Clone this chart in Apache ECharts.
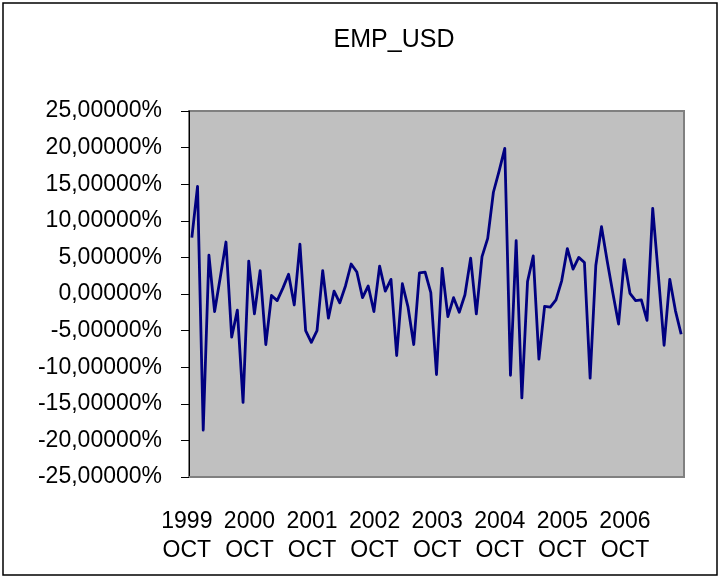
<!DOCTYPE html>
<html>
<head>
<meta charset="utf-8">
<script src="https://cdn.jsdelivr.net/npm/echarts@6/dist/echarts.min.js"></script>
<style>
  html, body { margin: 0; padding: 0; background: #fff; }
  #chart { width: 721px; height: 579px; }
</style>
</head>
<body>
<div id="chart"></div>
<script>
// EMP_USD series, in percent
const values = [
  7.7, 14.7, -18.6, 5.3, -2.4, 2.3, 7.1, -5.9, -2.2, -14.8,
  4.5, -2.7, 3.2, -6.9, -0.2, -0.9, 0.8, 2.7, -1.5, 6.8,
  -5.0, -6.6, -5.0, 3.2, -3.3, 0.4, -1.2, 1.1, 4.1, 3.0,
  -0.5, 1.1, -2.4, 3.8, 0.4, 2.0, -8.4, 1.4, -1.8, -6.9,
  2.9, 3.0, 0.2, -11.0, 3.5, -3.1, -0.5, -2.5, -0.1, 4.9,
  -2.7, 5.1, 7.6, 13.9, 16.8, 19.9, -11.1, 7.3, -14.2, 1.7,
  5.2, -8.9, -1.7, -1.8, -0.8, 1.8, 6.2, 3.4, 5.0, 4.3,
  -11.5, 3.9, 9.2, 4.5, 0.1, -4.1, 4.7, 0.1, -0.9, -0.8,
  -3.6, 11.7, 2.5, -7.0, 2.0, -2.3, -5.5
];

// Category axis labels
const tickYears = ['1999', '2000', '2001', '2002', '2003', '2004', '2005', '2006'];
const tickMonth = 'OCT';
const labelEvery = 11;

// Value axis range (percent)
const yMin = -25, yMax = 25, yStep = 5;

const categories = values.map((_, i) =>
  i % labelEvery === 0 && tickYears[i / labelEvery]
    ? tickYears[i / labelEvery] + '\n' + tickMonth
    : '');

const FONT = '"Liberation Sans", Arial, sans-serif';

const chart = echarts.init(document.getElementById('chart'), null, { renderer: 'canvas' });

chart.setOption({
  backgroundColor: '#ffffff',
  animation: false,
  title: {
    text: 'EMP_USD',
    left: 389,
    textAlign: 'center',
    top: 23,
    textStyle: { fontFamily: FONT, fontSize: 25, fontWeight: 'normal', color: '#000' }
  },
  grid: {
    left: 189, right: 37, top: 111, bottom: 102,
    show: true,
    backgroundColor: '#C0C0C0',
    borderColor: '#808080',
    borderWidth: 2
  },
  xAxis: {
    type: 'category',
    data: categories,
    boundaryGap: true,
    axisLine: { show: true, onZero: false, lineStyle: { color: '#808080', width: 2 } },
    axisTick: { show: false },
    axisLabel: {
      interval: 0,
      margin: 30,
      padding: [0, 10, 0, 0],
      fontFamily: FONT,
      fontSize: 23,
      lineHeight: 29,
      color: '#000'
    },
    splitLine: { show: false }
  },
  yAxis: {
    type: 'value',
    min: yMin,
    max: yMax,
    interval: yStep,
    axisLine: { show: true, lineStyle: { color: '#000', width: 1 } },
    axisTick: { show: true, inside: false, length: 8, lineStyle: { color: '#000' } },
    axisLabel: {
      margin: 27,
      fontFamily: FONT,
      fontSize: 23,
      color: '#000',
      formatter: v => v.toFixed(5).replace('.', ',') + '%'
    },
    splitLine: { show: false }
  },
  series: [{
    type: 'line',
    data: values,
    symbol: 'none',
    lineStyle: { color: '#000080', width: 2.8, join: 'round' },
    itemStyle: { color: '#000080' }
  }],
  graphic: [{
    type: 'rect',
    shape: { x: 3, y: 3, width: 714, height: 572 },
    style: { fill: null, stroke: '#000', lineWidth: 1.5 },
    silent: true,
    z: 100
  }]
});
</script>
</body>
</html>
